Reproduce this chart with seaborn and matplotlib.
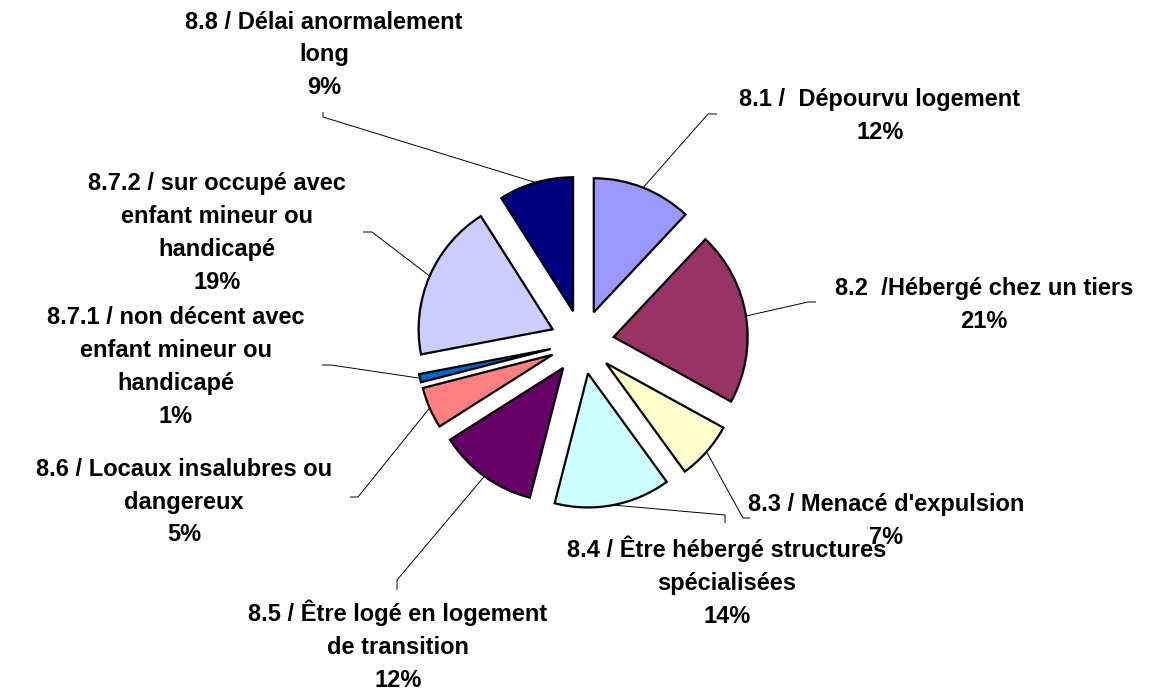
import numpy as np
import matplotlib
matplotlib.use("Agg")
import matplotlib.pyplot as plt
import seaborn as sns

# ---- data ----
categories = [
    "8.1 /  Dépourvu logement",
    "8.2  /Hébergé chez un tiers",
    "8.3 / Menacé d'expulsion",
    "8.4 / Être hébergé structures\nspécialisées",
    "8.5 / Être logé en logement\nde transition",
    "8.6 / Locaux insalubres ou\ndangereux",
    "8.7.1 / non décent avec\nenfant mineur ou\nhandicapé",
    "8.7.2 / sur occupé avec\nenfant mineur ou\nhandicapé",
    "8.8 / Délai anormalement\nlong",
]
percents = [12, 21, 7, 14, 12, 5, 1, 19, 9]
colors = ["#9999FF", "#993366", "#FFFFCC", "#CCFFFF", "#660066",
          "#FF8080", "#0066CC", "#CCCCFF", "#000080"]

# ---- layout (image pixel coordinates) ----
W, H = 1163, 692
center_px = (582, 342)
radius_px = 134
explode_px = 32
label_pos = [(880, 116), (984, 305), (886, 521), (727, 582), (398, 646),
             (184, 502), (176, 367), (217, 233), (324, 55)]
elbow_pos = [[(708, 114), (717, 114)],
             [(808, 302), (816, 302)],
             [(743, 518), (750, 518)],
             [(725, 515), (725, 523)],
             [(397, 580), (397, 590)],
             [(358, 497), (350, 497)],
             [(331, 365), (322, 365)],
             [(372, 232), (363, 232)],
             [(323, 117), (323, 112)]]

sns.set_theme(style="white")
plt.rcParams['font.family'] = ['Liberation Sans', 'DejaVu Sans']

fig = plt.figure(figsize=(W / 100, H / 100), dpi=100)
ax = fig.add_axes([0, 0, 1, 1])

cx, cy = center_px[0], H - center_px[1]
wedges, _ = ax.pie(percents, colors=colors, startangle=90, counterclock=False,
                   explode=[explode_px] * len(percents), radius=radius_px,
                   center=(cx, cy),
                   wedgeprops=dict(edgecolor='black', linewidth=1.6))
ax.set_xlim(0, W)
ax.set_ylim(0, H)
ax.set_aspect('equal')
ax.axis('off')

for w, cat, p, lp, elb in zip(wedges, categories, percents, label_pos, elbow_pos):
    ang = np.deg2rad((w.theta1 + w.theta2) / 2)
    r = radius_px + explode_px
    sx, sy = cx + r * np.cos(ang), cy + r * np.sin(ang)
    xs = [sx] + [e[0] for e in elb]
    ys = [sy] + [H - e[1] for e in elb]
    ax.plot(xs, ys, color='black', linewidth=0.7, solid_capstyle='butt')
    ax.text(lp[0], H - lp[1], f"{cat}\n{p}%", ha='center', va='center',
            multialignment='center', fontsize=17, fontweight='bold',
            linespacing=1.55, color='black')

fig.savefig("out.png", dpi=100)
